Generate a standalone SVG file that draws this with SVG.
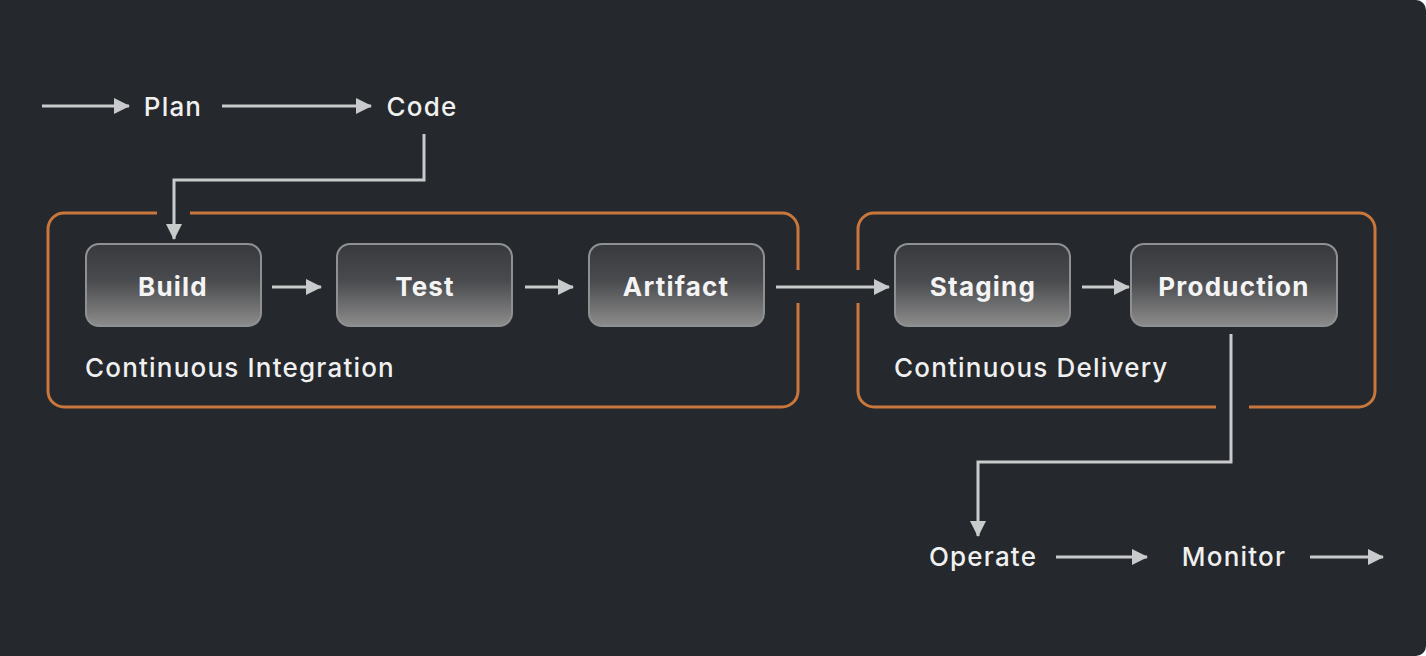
<svg xmlns="http://www.w3.org/2000/svg" width="1426" height="656" viewBox="0 0 1426 656">
<defs>
<linearGradient id="ng" x1="0" y1="0" x2="0" y2="1">
<stop offset="0" stop-color="#37393d"/>
<stop offset="0.45" stop-color="#4a4b4e"/>
<stop offset="1" stop-color="#8c8c8c"/>
</linearGradient>
<marker id="ah" markerWidth="16" markerHeight="16" refX="15" refY="8" orient="auto" markerUnits="userSpaceOnUse">
<path d="M0,0 L16,8 L0,16 Z" fill="#c9cacb"/>
</marker>
<style>
.node rect{fill:url(#ng);stroke:#8e9092;stroke-width:2}
.nt{font-family:Inter,"Liberation Sans",sans-serif;font-size:26px;font-weight:700;letter-spacing:1.2px;fill:#f4f4f4;text-anchor:middle}
.lt{font-family:Inter,"Liberation Sans",sans-serif;font-size:26px;font-weight:500;letter-spacing:1.2px;fill:#f0f0f0}
.grp{fill:none;stroke:#c9773c;stroke-width:3}
.c{fill:none;stroke:#c9cacb;stroke-width:3;marker-end:url(#ah)}
</style>
</defs>
<rect x="0" y="0" width="1426" height="656" fill="#ffffff"/>
<path d="M0,0 H1416 A10,10 0 0 1 1426,10 V646 A10,10 0 0 1 1416,656 H0 Z" fill="#25282c"/>

<g id="group-ci">
<path class="grp" d="M157,213 H64 A16,16 0 0 0 48,229 V391 A16,16 0 0 0 64,407 H782 A16,16 0 0 0 798,391 V303 M798,270 V229 A16,16 0 0 0 782,213 H190"/>
<text class="lt" x="85" y="377">Continuous Integration</text>
</g>
<g id="group-cd">
<path class="grp" d="M858,270 V229 A16,16 0 0 1 874,213 H1359 A16,16 0 0 1 1375,229 V391 A16,16 0 0 1 1359,407 H1249 M1216,407 H874 A16,16 0 0 1 858,391 V303"/>
<text class="lt" x="894" y="377">Continuous Delivery</text>
</g>

<g id="node-plan"><text class="lt" x="173" y="116" text-anchor="middle">Plan</text></g>
<g id="node-code"><text class="lt" x="422" y="116" text-anchor="middle">Code</text></g>
<g id="node-build" class="node"><rect x="86" y="244" width="175" height="82" rx="13"/><text class="nt" x="173" y="296">Build</text></g>
<g id="node-test" class="node"><rect x="337" y="244" width="175" height="82" rx="13"/><text class="nt" x="425" y="296">Test</text></g>
<g id="node-artifact" class="node"><rect x="589" y="244" width="175" height="82" rx="13"/><text class="nt" x="676" y="296">Artifact</text></g>
<g id="node-staging" class="node"><rect x="895" y="244" width="175" height="82" rx="13"/><text class="nt" x="983" y="296">Staging</text></g>
<g id="node-production" class="node"><rect x="1131" y="244" width="206" height="82" rx="13"/><text class="nt" x="1234" y="296">Production</text></g>
<g id="node-operate"><text class="lt" x="983" y="566" text-anchor="middle">Operate</text></g>
<g id="node-monitor"><text class="lt" x="1234" y="566" text-anchor="middle">Monitor</text></g>

<g id="connectors">
<path class="c" d="M42,106 H129"/>
<path class="c" d="M222,106 H371"/>
<path class="c" d="M424,134 V180 H174 V239"/>
<path class="c" d="M272,287 H321"/>
<path class="c" d="M525,287 H573"/>
<path class="c" d="M776,287 H889"/>
<path class="c" d="M1082,287 H1129"/>
<path class="c" d="M1231,334 V462 H978 V536"/>
<path class="c" d="M1056,557 H1147"/>
<path class="c" d="M1310,557 H1383"/>
</g>
</svg>
